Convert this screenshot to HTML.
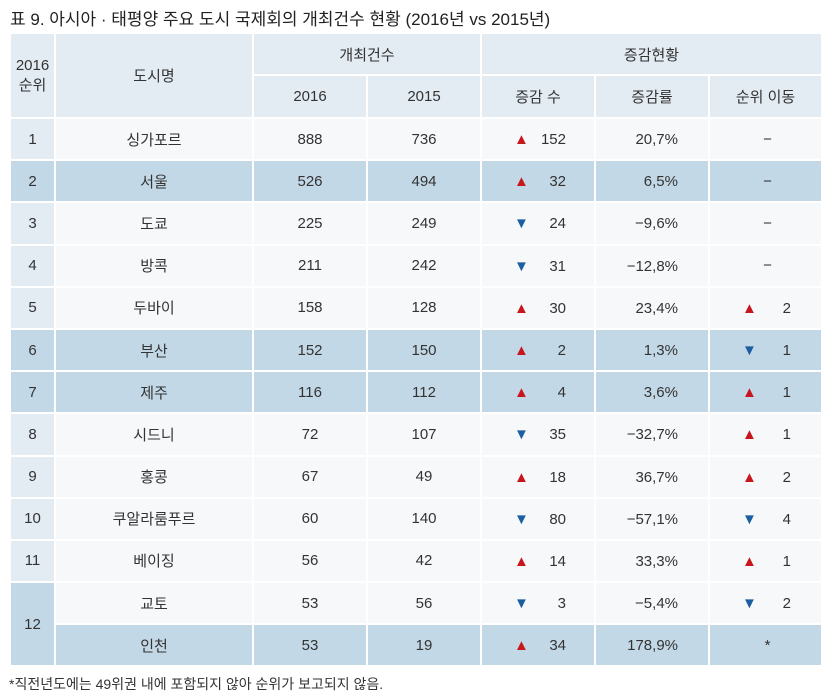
<!DOCTYPE html>
<html><head><meta charset="utf-8"><style>
body{margin:0;width:831px;height:696px;background:#fff;font-family:"Liberation Sans","Noto Sans CJK KR",sans-serif;color:#333;position:relative;overflow:hidden}
#title{position:absolute;left:10px;top:5px;font-size:17px;color:#222;white-space:nowrap}
table{position:absolute;left:9px;top:32px;border-collapse:collapse;table-layout:fixed}
td{border:2px solid #fff;text-align:center;font-size:15px;padding:0;background:#f6f8fa;position:relative}
td.h{background:#e3ebf3}
tr.hl td{background:#c3d8e6}
td.r{background:#e3ebf3}
tr.hl td.r{background:#c3d8e6}
td.k{background:#c3d8e6}
.tri{position:absolute;font-size:15px;line-height:15px}
.up{color:#c8161d}.dn{color:#1d5ea0}
.num{position:absolute;text-align:right}
#note{position:absolute;left:9px;top:674px;font-size:14px;color:#333}
</style></head><body>
<div id="title">표 9. 아시아 · 태평양 주요 도시 국제회의 개최건수 현황 (2016년 vs 2015년)</div>
<table>
<colgroup><col style="width:45px"><col style="width:198px"><col style="width:114px"><col style="width:114px"><col style="width:114px"><col style="width:114px"><col style="width:113px"></colgroup>
<tr style="height:42px"><td class="h" rowspan="2">2016<br>순위</td><td class="h" rowspan="2">도시명</td><td class="h" colspan="2">개최건수</td><td class="h" colspan="3">증감현황</td></tr>
<tr style="height:43px"><td class="h">2016</td><td class="h">2015</td><td class="h">증감 수</td><td class="h">증감률</td><td class="h">순위 이동</td></tr>
<tbody id="tb"></tbody>
</table>
<div id="note">*직전년도에는 49위권 내에 포함되지 않아 순위가 보고되지 않음.</div>
<script>
const ranks=['1','2','3','4','5','6','7','8','9','10','11','12',''];
const cities=['싱가포르','서울','도쿄','방콕','두바이','부산','제주','시드니','홍콩','쿠알라룸푸르','베이징','교토','인천'];
const v2016=[888,526,225,211,158,152,116,72,67,60,56,53,53];
const v2015=[736,494,249,242,128,150,112,107,49,140,42,56,19];
const diffs=[152,32,-24,-31,30,2,4,-35,18,-80,14,-3,34];
const rates=['20.7%','6.5%','-9.6%','-12.8%','23.4%','1.3%','3.6%','-32.7%','36.7%','-57.1%','33.3%','-5.4%','178.9%'];
const moves=['-','-','-','-','2','-1','1','1','2','-4','1','-2','*'];
const hl=[1,5,6,12];
const tb=document.getElementById('tb');
function tri(up,left){const s=document.createElement('span');s.className='tri '+(up?'up':'dn');s.textContent=up?'▲':'▼';s.style.left=left+'px';s.style.top='13px';


return s;}
function num(t,right){const s=document.createElement('span');s.className='num';s.textContent=t;s.style.right=right+'px';s.style.top='12px';


return s;}
for(let i=0;i<cities.length;i++){
 const tr=document.createElement('tr');tr.style.height='42.2px';
 if(hl.includes(i))tr.className='hl';
 
 
 if(i<=11){const r=document.createElement('td');r.className='r';if(i==11){r.rowSpan=2;r.className='r k';}r.textContent=ranks[i];
  
  
  tr.appendChild(r);}
 const c=document.createElement('td');c.textContent=cities[i];
 
 
 tr.appendChild(c);
 const a=document.createElement('td');a.textContent=v2016[i];
 
 
 tr.appendChild(a);
 const b=document.createElement('td');b.textContent=v2015[i];
 
 
 tr.appendChild(b);
 const d=document.createElement('td');
 
 
 d.appendChild(tri(diffs[i]>=0,32));d.appendChild(num(Math.abs(diffs[i]),28));tr.appendChild(d);
 const e=document.createElement('td');
 
 
 e.appendChild(num(rates[i].replace('-','−').replace('.',','),30));tr.appendChild(e);
 const f=document.createElement('td');
 
 
 const m=moves[i];
 if(m=='-'||m=='*'){f.textContent=m=='-'?'−':'*';f.style.paddingLeft='4px';}
 else{const n=parseInt(m);f.appendChild(tri(n>0,32));f.appendChild(num(Math.abs(n),30));}
 tr.appendChild(f);
 tb.appendChild(tr);
}
</script>
</body></html>
